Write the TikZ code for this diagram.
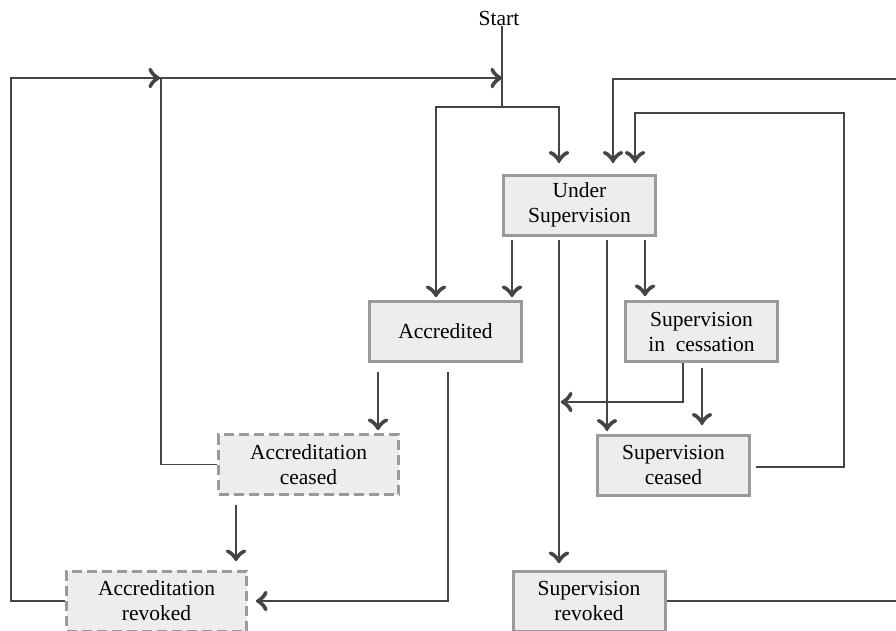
\documentclass[tikz,border=0pt]{standalone}
\usepackage{fontspec}
\setmainfont{Liberation Serif}
\usepackage{tikz}
\usetikzlibrary{arrows,decorations.markings}
\definecolor{linegray}{HTML}{454545}
\definecolor{boxgray}{HTML}{9A9A9A}
\definecolor{boxfill}{HTML}{EDEDED}

\begin{document}
\begin{tikzpicture}[x=1pt,y=1pt,
    state/.style={draw=boxgray,fill=boxfill,line width=3pt,minimum width=152pt,minimum height=60pt,inner sep=0pt,align=center,font=\fontsize{21.5}{25}\selectfont},
    ceased/.style={state,dash pattern=on 10pt off 5pt,minimum width=180pt},
    link/.style={draw=linegray,line width=1.6pt},
    arr/.style={link,decoration={markings,mark=at position 1 with
    {\arrow[scale=2.8,>=to]{>}}},postaction={decorate}}]
\useasboundingbox (0,0) rectangle (896,-630);
\clip (0,0) rectangle (896,-630);

\node[inner sep=1pt,font=\fontsize{21.5}{25}\selectfont] (start) at (499,-18) {Start};
\node[state] (us) at (579.5,-205) {Under\\Supervision};
\node[state] (acc) at (445.5,-331.5) {Accredited};
\node[state] (sic) at (701.5,-331.5) {Supervision\\in~ cessation};
\node[ceased] (ac) at (308.5,-464.5) {Accreditation\\ceased};
\node[state] (sc) at (673.5,-465) {Supervision\\ceased};
\node[ceased] (ar) at (156.5,-601) {Accreditation\\revoked};
\node[state] (sr) at (589,-601) {Supervision\\revoked};

\coordinate (fork) at (502,-107);
\coordinate (join) at (161,-78);
\coordinate (entry) at (502,-78);
\coordinate (merge) at (561,-402);

\draw[link] ([xshift=3pt]start.south) -- (fork);
\draw[arr] (fork) -| ([xshift=-9.5pt,yshift=3pt]acc.north);
\draw[arr] (fork) -| ([xshift=-20.5pt,yshift=11pt]us.north);
\draw[arr] ([xshift=-67.5pt,yshift=-3pt]us.south) -- ([xshift=66.5pt,yshift=3pt]acc.north);
\draw[arr] ([xshift=-20.5pt,yshift=-3pt]us.south) -- ([xshift=-30pt,yshift=6.5pt]sr.north);
\draw[arr] ([xshift=27.5pt,yshift=-3pt]us.south) -- ([xshift=-66.5pt,yshift=3pt]sc.north);
\draw[arr] ([xshift=65.5pt,yshift=-3pt]us.south) -- ([xshift=-56.5pt,yshift=4pt]sic.north);
\draw[arr] ([xshift=-67.5pt,yshift=-9pt]acc.south) -- ([xshift=69.5pt,yshift=3pt]ac.north);
\draw[arr] ([xshift=2.5pt,yshift=-9pt]acc.south) |- ([xshift=8pt]ar.east);
\draw[arr] ([xshift=-72.5pt,yshift=-9pt]ac.south) -- ([xshift=79.5pt,yshift=8.5pt]ar.north);
\draw[arr] (ac.west) -| (join) -- (entry);
\draw[arr] (ar.west) -| (11,-78) -- ([xshift=-1pt]join);
\draw[arr] ([xshift=-18.5pt]sic.south) |- (merge);
\draw[arr] ([xshift=0.5pt,yshift=-5pt]sic.south) -- ([xshift=28.5pt,yshift=9pt]sc.north);
\draw[arr] ([xshift=5pt,yshift=-2pt]sc.east) -| (844,-113) -| ([xshift=55.5pt,yshift=11pt]us.north);
\draw[arr] (sr.east) -- (905,-601) -- (905,-79) -| ([xshift=33.5pt,yshift=11pt]us.north);
\end{tikzpicture}
\end{document}
